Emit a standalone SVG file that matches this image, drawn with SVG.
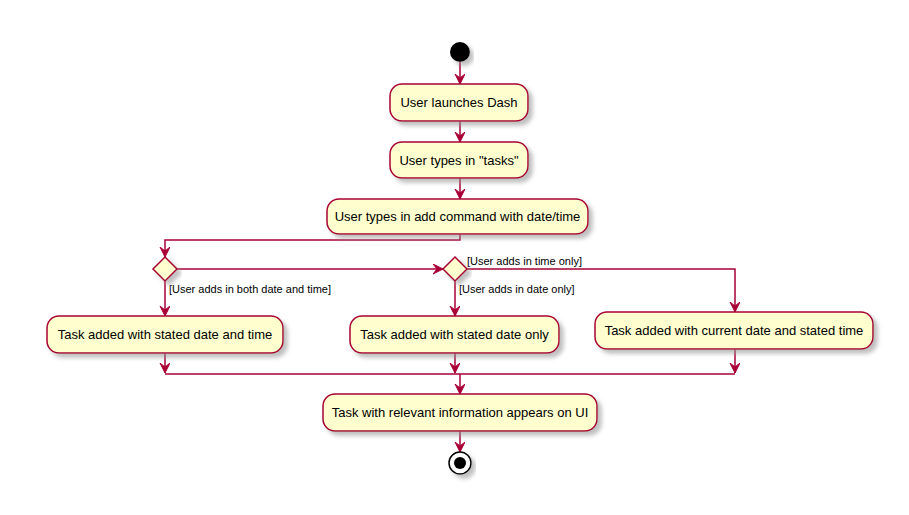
<svg xmlns="http://www.w3.org/2000/svg" width="909" height="515" viewBox="0 0 909 515">
<style>
.act{fill:#FEFECE;stroke:#A80036;stroke-width:1.5;filter:url(#sh)}
.t{font-family:"Liberation Sans",Arial,sans-serif;font-size:13px;fill:#000;text-anchor:middle}
.g{font-family:"Liberation Sans",Arial,sans-serif;font-size:11px;fill:#000}
.ln{fill:none;stroke:#A80036;stroke-width:1.5}
</style>
<defs>
<filter id="sh" x="-10%" y="-20%" width="130%" height="160%">
<feGaussianBlur in="SourceAlpha" stdDeviation="2"/>
<feOffset dx="4" dy="4" result="b"/>
<feColorMatrix in="b" type="matrix" values="0 0 0 0 0.3  0 0 0 0 0.3  0 0 0 0 0.3  0 0 0 0.6 0" result="c"/>
<feMerge><feMergeNode in="c"/><feMergeNode in="SourceGraphic"/></feMerge>
</filter>
<marker id="ar" markerWidth="12" markerHeight="12" refX="10" refY="5" orient="auto" markerUnits="userSpaceOnUse">
<path d="M0,0 L10,5 L0,10 L4,5 Z" fill="#A80036" stroke="#A80036" stroke-width="1"/>
</marker>
</defs>
<g id="connectors">
<line class="ln" x1="460" y1="62" x2="460" y2="84" marker-end="url(#ar)"/>
<line class="ln" x1="460" y1="121" x2="460" y2="142" marker-end="url(#ar)"/>
<line class="ln" x1="460" y1="178" x2="460" y2="199" marker-end="url(#ar)"/>
<polyline class="ln" points="460,234 460,240 165,240 165,257" marker-end="url(#ar)"/>
<line class="ln" x1="177" y1="269" x2="443" y2="269" marker-end="url(#ar)"/>
<line class="ln" x1="165" y1="280" x2="165" y2="316" marker-end="url(#ar)"/>
<line class="ln" x1="455" y1="280" x2="455" y2="316" marker-end="url(#ar)"/>
<polyline class="ln" points="467,269 735,269 735,312" marker-end="url(#ar)"/>
<line class="ln" x1="165" y1="353" x2="165" y2="373" marker-end="url(#ar)"/>
<line class="ln" x1="455" y1="353" x2="455" y2="373" marker-end="url(#ar)"/>
<line class="ln" x1="735" y1="349" x2="735" y2="373" marker-end="url(#ar)"/>
<line class="ln" x1="165" y1="374" x2="735" y2="374"/>
<line class="ln" x1="460" y1="374" x2="460" y2="394" marker-end="url(#ar)"/>
<line class="ln" x1="460" y1="431" x2="460" y2="452" marker-end="url(#ar)"/>
<text class="g" x="169" y="293">[User adds in both date and time]</text>
<text class="g" x="459" y="293">[User adds in date only]</text>
<text class="g" x="467" y="265">[User adds in time only]</text>
</g>
<g id="start"><circle cx="460" cy="52" r="10" fill="#000" filter="url(#sh)"/></g>
<g id="n1"><rect class="act" x="390" y="84" width="138" height="37" rx="12"/><text class="t" x="459" y="107">User launches Dash</text></g>
<g id="n2"><rect class="act" x="390" y="142" width="138" height="36" rx="12"/><text class="t" x="459" y="165">User types in "tasks"</text></g>
<g id="n3"><rect class="act" x="327" y="199" width="261" height="35" rx="12"/><text class="t" x="457.5" y="221">User types in add command with date/time</text></g>
<g id="d1"><polygon class="act" points="165,257 177,269 165,281 153,269"/></g>
<g id="d2"><polygon class="act" points="455,257 467,269 455,281 443,269"/></g>
<g id="n4"><rect class="act" x="47" y="316" width="236" height="37" rx="12"/><text class="t" x="165" y="339">Task added with stated date and time</text></g>
<g id="n5"><rect class="act" x="350" y="316" width="209" height="37" rx="12"/><text class="t" x="454.5" y="339">Task added with stated date only</text></g>
<g id="n6"><rect class="act" x="595" y="312" width="278" height="37" rx="12"/><text class="t" x="734" y="335">Task added with current date and stated time</text></g>
<g id="n7"><rect class="act" x="323" y="394" width="274" height="37" rx="12"/><text class="t" x="460" y="417">Task with relevant information appears on UI</text></g>
<g id="end"><circle cx="460" cy="463" r="11" fill="#fff" stroke="#000" stroke-width="1.5" filter="url(#sh)"/><circle cx="460" cy="463" r="6" fill="#000"/></g>
</svg>
